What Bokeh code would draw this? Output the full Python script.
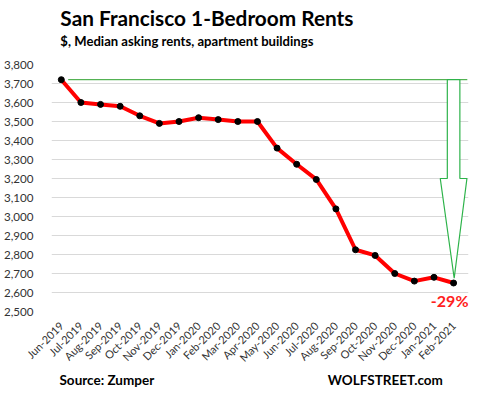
import math
from bokeh.plotting import figure
from bokeh.layouts import column
from bokeh.models import Label, FixedTicker, NumeralTickFormatter, Range1d
from bokeh.core.properties import value
from bokeh.embed import file_html
from bokeh.resources import INLINE

months = ["Jun-2019", "Jul-2019", "Aug-2019", "Sep-2019", "Oct-2019", "Nov-2019",
          "Dec-2019", "Jan-2020", "Feb-2020", "Mar-2020", "Apr-2020", "May-2020",
          "Jun-2020", "Jul-2020", "Aug-2020", "Sep-2020", "Oct-2020", "Nov-2020",
          "Dec-2020", "Jan-2021", "Feb-2021"]
rents = [3720, 3600, 3590, 3580, 3530, 3490, 3500, 3520, 3510, 3500, 3500, 3360,
         3275, 3195, 3040, 2825, 2795, 2700, 2660, 2680, 2650]
y_ticks = [2500, 2600, 2700, 2800, 2900, 3000, 3100, 3200, 3300, 3400, 3500, 3600, 3700, 3800]
change_label = "-29%"
title_text = "San Francisco 1-Bedroom Rents"
subtitle_text = "$, Median asking rents, apartment buildings"
source_text = "Source: Zumper"
brand_text = "WOLFSTREET.com"

FONT = "Lato"
W = 462
xs = list(range(len(months)))


def text_strip(height):
    f = figure(width=W, height=height, output_backend="svg", toolbar_location=None,
               x_range=Range1d(0, W), y_range=Range1d(height, 0),
               x_axis_type=None, y_axis_type=None, min_border=0)
    f.outline_line_color = None
    f.grid.grid_line_color = None
    f.background_fill_color = "white"
    f.border_fill_color = "white"
    return f


# header
header = text_strip(56)
header.text(x=[10], y=[17], text=[title_text], text_font=value(FONT), text_font_style="bold",
            text_font_size=value("20.8px"), text_baseline="middle", text_color="black")
header.text(x=[10], y=[40], text=[subtitle_text], text_font=value(FONT), text_font_style="bold",
            text_font_size=value("13.1px"), text_baseline="middle", text_color="black")

# main chart
p = figure(width=W, output_backend="svg", toolbar_location=None,
           x_range=Range1d(-0.5, len(months) - 0.24), y_range=Range1d(2500, 3800),
           frame_width=417, frame_height=247,
           min_border_left=44, min_border_right=1, min_border_top=8, min_border_bottom=55)
p.outline_line_color = None
p.background_fill_color = "white"
p.border_fill_color = "white"

p.yaxis.ticker = FixedTicker(ticks=y_ticks)
p.yaxis.formatter = NumeralTickFormatter(format="0,0")
p.yaxis.axis_line_color = None
p.yaxis.major_tick_line_color = None
p.yaxis.minor_tick_line_color = None
p.yaxis.major_label_standoff = 12
p.yaxis.major_label_text_font = FONT
p.yaxis.major_label_text_font_size = "11.6px"
p.yaxis.major_label_text_color = "#333333"

p.xaxis.ticker = FixedTicker(ticks=xs)
p.xaxis.major_label_overrides = {i: m for i, m in enumerate(months)}
p.xaxis.major_label_orientation = math.pi / 4
p.xaxis.axis_line_color = None
p.xaxis.major_tick_line_color = None
p.xaxis.minor_tick_line_color = None
p.xaxis.major_label_standoff = 6
p.xaxis.major_label_text_font = FONT
p.xaxis.major_label_text_font_size = "11px"
p.xaxis.major_label_text_color = "#333333"

p.xgrid.grid_line_color = None
p.ygrid.grid_line_color = "#d9d9d9"
p.ygrid.grid_line_width = 1
p.ygrid.bounds = (-0.5, len(months) - 0.5)

# reference line at start level and down arrow
top = rents[0]
last_i = xs[-1]
p.line([0.35, last_i + 0.7], [top, top], line_color="#2ca02c", line_width=1)
shaft = 0.32
head = 0.68
shaft_bottom = 3200
tip = rents[-1] + 25
arrow_x = [last_i - shaft, last_i - shaft, last_i - head, last_i + 0.03, last_i + head,
           last_i + shaft, last_i + shaft]
arrow_y = [top, shaft_bottom, shaft_bottom, tip, shaft_bottom, shaft_bottom, top]
p.patch(arrow_x, arrow_y, fill_color="white", line_color="#2db34a", line_width=1.2)

p.line(xs, rents, line_color="#ff0000", line_width=4)
p.scatter(xs, rents, size=6, color="black")

p.add_layout(Label(x=last_i - 0.2, y=rents[-1] - 90, text=change_label, text_align="center",
                   text_baseline="middle", text_font=FONT, text_font_style="bold",
                   text_font_size="16px", text_color="#ff2020"))

# footer
footer = text_strip(18)
footer.text(x=[9], y=[8], text=[source_text], text_font=value(FONT), text_font_style="bold",
            text_font_size=value("13.5px"), text_baseline="middle", text_color="black")
footer.text(x=[441], y=[8], text=[brand_text], text_font=value(FONT), text_font_style="bold",
            text_font_size=value("13.5px"), text_baseline="middle", text_align="right",
            text_color="black")

layout = column(header, p, footer, spacing=0)
open("out.html", "w").write(file_html(layout, INLINE))
